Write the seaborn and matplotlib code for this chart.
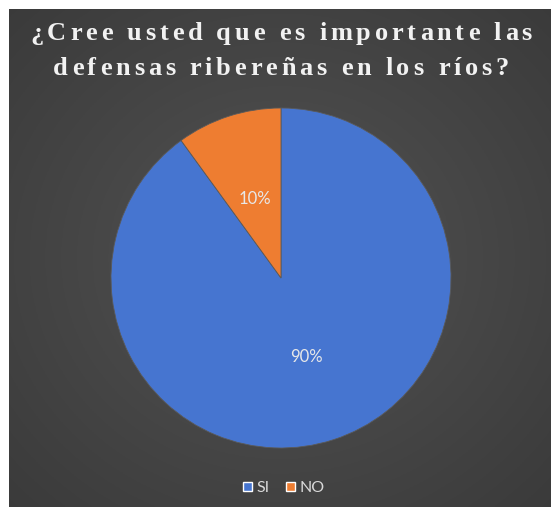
import numpy as np
import matplotlib
matplotlib.use("Agg")
import matplotlib.pyplot as plt
import seaborn as sns
from matplotlib.patches import Patch
from matplotlib.textpath import TextPath
from matplotlib.font_manager import FontProperties

sns.set_theme(style="white")

# Survey answers
categories = ["SI", "NO"]
shares = [90, 10]
colors = ["#4675D0", "#EE7D31"]
title_lines = ["¿Cree usted que es importante las", "defensas ribereñas en los ríos?"]

W, H = 553, 507
DPI = 100
fig = plt.figure(figsize=(W / DPI, H / DPI), dpi=DPI)
fig.patch.set_facecolor("white")

# Dark panel with a soft radial gradient
bg = fig.add_axes([9 / W, 0, (551 - 9) / W, (507 - 9) / H])
yy, xx = np.mgrid[0:1:300j, 0:1:300j]
rr = np.sqrt((xx - 0.5) ** 2 + (yy - 0.5) ** 2) / np.sqrt(0.5)
shade = 0.325 - 0.095 * rr
bg.imshow(np.dstack([shade, shade, shade]), extent=[0, 1, 0, 1], aspect="auto")
bg.set_axis_off()

# Pie
cx, cy, r = 281, 278, 170
ax = fig.add_axes([(cx - r) / W, (H - cy - r) / H, 2 * r / W, 2 * r / H])
wedges, texts, autotexts = ax.pie(
    shares, colors=colors, startangle=90, counterclock=False,
    autopct="%1.0f%%", pctdistance=0.49, radius=1,
    wedgeprops=dict(linewidth=0.6, edgecolor="#5a5a5a"),
    textprops=dict(color="#E8E8E8", fontsize=12, family="Lato"),
)
ax.set_xlim(-1, 1)
ax.set_ylim(-1, 1)
ax.set_aspect("auto")
ax.set_axis_off()

# Title, drawn with extra letter spacing
title_font = FontProperties(family="Liberation Serif", weight="bold", size=19)
tracking = 3.8  # px between glyphs
px_per_pt = DPI / 72.0


def glyph_width(ch):
    if ch == " ":
        ch_w = TextPath((0, 0), "a a", prop=title_font).get_extents().width - \
            TextPath((0, 0), "aa", prop=title_font).get_extents().width
        return ch_w * px_per_pt
    return TextPath((0, 0), "|" + ch + "|", prop=title_font).get_extents().width * px_per_pt - \
        TextPath((0, 0), "||", prop=title_font).get_extents().width * px_per_pt


baselines = [40, 75]
for line, base in zip(title_lines, baselines):
    widths = [glyph_width(c) for c in line]
    total = sum(widths) + tracking * (len(line) - 1)
    x = cx - total / 2
    for c, w in zip(line, widths):
        if c != " ":
            fig.text(x / W, 1 - base / H, c, ha="left", va="baseline",
                     color="#F2F2F2", fontproperties=title_font)
        x += w + tracking

# Legend
handles = [Patch(facecolor=c, label=l) for c, l in zip(colors, categories)]
fig.legend(handles=handles, loc="center", bbox_to_anchor=(284 / W, 1 - 488 / H),
           ncol=2, frameon=False, handlelength=0.55, handleheight=0.55,
           handletextpad=0.3, columnspacing=1.0, labelcolor="#D9D9D9",
           prop=dict(family="Lato", size=11.5))

fig.savefig("out.png", dpi=DPI, facecolor=fig.get_facecolor())
